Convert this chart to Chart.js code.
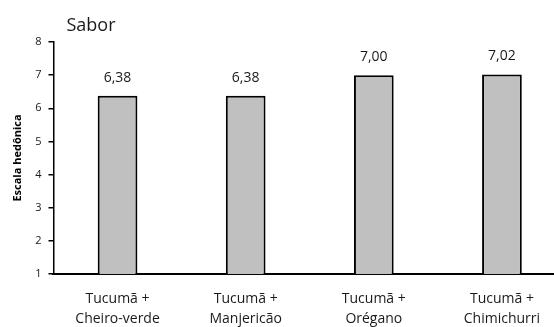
<!DOCTYPE html>
<html>
<head>
<meta charset="utf-8">
<script src="https://cdn.jsdelivr.net/npm/chart.js@4"></script>
<style>
  html, body { margin: 0; padding: 0; background: #fff; overflow: hidden; }
  #wrap { width: 554px; height: 327px; overflow: hidden; }
</style>
</head>
<body>
<div id="wrap"><canvas id="chart" width="566" height="327"></canvas></div>
<script>
// dados do gráfico
var categorias = [['Tucumã +', 'Cheiro-verde'], ['Tucumã +', 'Manjericão'], ['Tucumã +', 'Orégano'], ['Tucumã +', 'Chimichurri']];
var valores = [6.38, 6.38, 7.00, 7.02];
var rotulos = ['6,38', '6,38', '7,00', '7,02'];
var titulo = 'Sabor';
var tituloEixoY = 'Escala hedônica';

var fonte = "'Open Sans', 'Liberation Sans', sans-serif";

// desenha os valores em cima das barras e o título
var rotulosPlugin = {
  id: 'rotulos',
  afterDatasetsDraw: function(chart){
    var ctx = chart.ctx;
    var meta = chart.getDatasetMeta(0);
    ctx.save();
    ctx.fillStyle = '#1a1a1a';
    ctx.font = '14px ' + fonte;
    ctx.textAlign = 'center';
    ctx.textBaseline = 'middle';
    meta.data.forEach(function(bar, i){
      ctx.fillText(rotulos[i], bar.x, bar.y - 18);
    });
    ctx.font = '18px ' + fonte;
    ctx.textAlign = 'left';
    ctx.fillText(titulo, chart.chartArea.left + 13, chart.chartArea.top - 16);
    ctx.restore();
  }
};

new Chart(document.getElementById('chart'), {
  type: 'bar',
  data: {
    labels: categorias,
    datasets: [{
      data: valores,
      backgroundColor: '#C0C0C0',
      borderColor: '#000',
      borderWidth: 2,
      borderSkipped: 'bottom',
      barPercentage: 0.31,
      categoryPercentage: 1
    }]
  },
  options: {
    responsive: false,
    animation: false,
    layout: { padding: { top: 42, left: 7, right: 0, bottom: -17 } },
    plugins: {
      legend: { display: false },
      tooltip: { enabled: false }
    },
    scales: {
      x: {
        grid: { display: false, drawTicks: false },
        border: { color: '#000', width: 2 },
        ticks: { color: '#1a1a1a', font: { family: fonte, size: 14, lineHeight: '20px' }, padding: 15, maxRotation: 0 }
      },
      y: {
        min: 1,
        max: 8,
        grid: { display: true, drawOnChartArea: false, drawTicks: true, tickLength: 5, color: '#000', tickColor: '#000', tickWidth: 1.5, lineWidth: 1.5 },
        border: { color: '#000', width: 1.5 },
        ticks: { stepSize: 1, color: '#1a1a1a', font: { family: fonte, size: 11 }, padding: 7 },
        title: { display: true, text: tituloEixoY, color: '#000', font: { family: fonte, size: 11, weight: 'bold' }, padding: { top: 4, bottom: 4 } }
      }
    }
  },
  plugins: [rotulosPlugin]
});
</script>
</body>
</html>
